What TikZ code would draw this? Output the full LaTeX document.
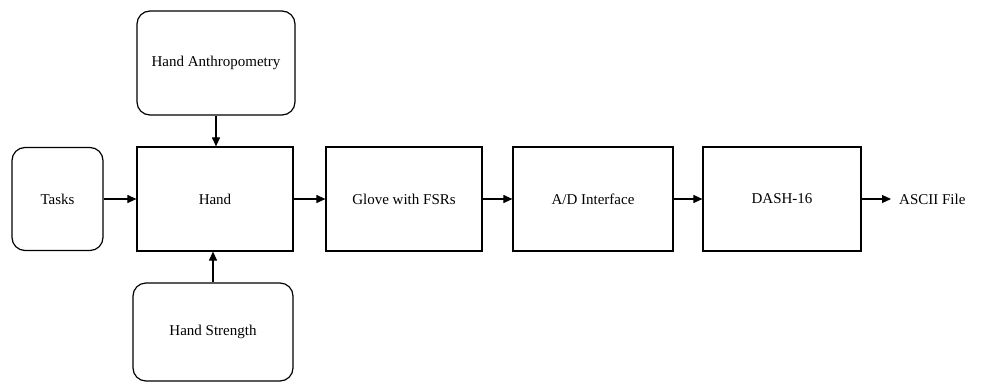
\documentclass[tikz,border=0pt]{standalone}
\usepackage{fontspec}
\setmainfont{Liberation Serif}
\usetikzlibrary{arrows.meta}
\begin{document}
\begin{tikzpicture}[x=1pt,y=-1pt,
    font=\fontsize{15}{18}\selectfont,
    box/.style={draw,line width=1.2pt,inner sep=0pt,minimum height=104pt},
    rbox/.style={box,rounded corners=13pt},
    link/.style={line width=1.1pt,-{Triangle[length=9pt,width=8pt]}}]
  \useasboundingbox (0,0) rectangle (981,383);

  \node[rbox,minimum width=158pt] (anthro) at (216,63) {Hand Anthropometry};
  \node[rbox,minimum width=91pt,minimum height=103pt] (tasks) at (57.5,199) {Tasks};
  \node[box,minimum width=156pt] (hand) at (215,199) {Hand};
  \node[rbox,minimum width=160pt,minimum height=98pt] (strength) at (213,332) {Hand Strength};

  \node[box,minimum width=156pt] (glove) at (404,199) {Glove with FSRs};
  \node[box,minimum width=160pt] (adi) at (593,199) {A/D Interface};
  \node[box,minimum width=158pt] (dash) at (782,199) {DASH-16};
  \node[anchor=west,inner sep=0pt] (ascii) at (899,199) {ASCII File};

  \draw[link] (anthro.south) -- (anthro.south |- hand.north);
  \draw[link] (strength.north) -- (strength.north |- hand.south);
  \draw[link] (tasks) -- (hand);
  \draw[link] (hand) -- (glove);
  \draw[link] (glove) -- (adi);
  \draw[link] (adi) -- (dash);
  \draw[link,shorten >=8pt] (dash.east) -- (ascii.west);
\end{tikzpicture}
\end{document}
